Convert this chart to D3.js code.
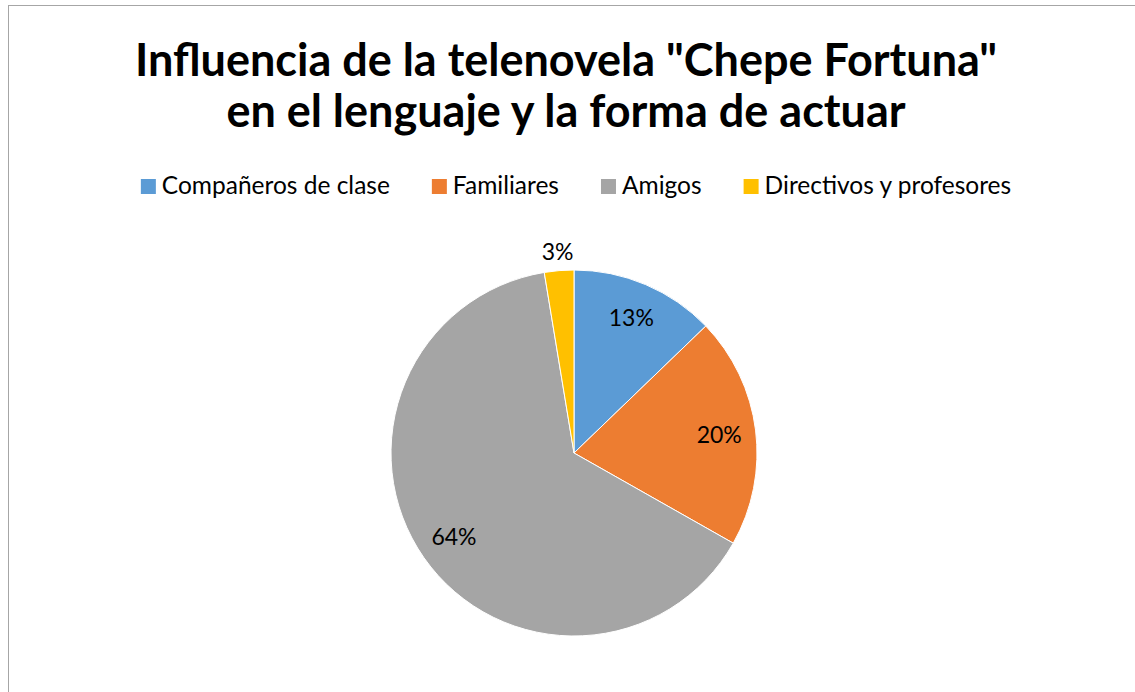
<!DOCTYPE html>
<html>
<head>
<meta charset="utf-8">
<script src="https://cdn.jsdelivr.net/npm/d3@7"></script>
<style>
  body { margin: 0; background: #fff; }
  svg { display: block; font-family: Lato, "Open Sans", sans-serif; }
</style>
</head>
<body>
<svg id="chart" width="1135" height="692"></svg>
<script>
// data
var categories = ["Compañeros de clase", "Familiares", "Amigos", "Directivos y profesores"];
var values = [12.8, 20.4, 64.2, 2.6];
var colors = ["#5b9bd5", "#ed7d31", "#a5a5a5", "#ffc000"];
var titleLines = ["Influencia de la telenovela \"Chepe Fortuna\"", "en el lenguaje y la forma de actuar"];

var svg = d3.select("#chart");
var total = d3.sum(values);

// outer border (right / bottom run off the picture)
svg.append("rect")
    .attr("x", 8.5)
    .attr("y", 5.5)
    .attr("width", 1140)
    .attr("height", 700)
    .attr("fill", "#fff")
    .attr("stroke", "#a6a6a6")
    .attr("stroke-width", 1);

// title
svg.append("text")
    .attr("text-anchor", "middle")
    .attr("font-weight", "bold")
    .attr("font-size", "45px")
    .attr("fill", "#000")
    .selectAll("tspan")
    .data(titleLines)
    .enter()
    .append("tspan")
    .attr("x", 566)
    .attr("y", function (d, i) { return 76 + i * 51; })
    .text(function (d) { return d; });

// legend
var legend = svg.append("g");
var items = legend.selectAll("g")
    .data(categories)
    .enter()
    .append("g");
items.append("rect")
    .attr("width", 15)
    .attr("height", 15)
    .attr("y", 179)
    .attr("fill", function (d, i) { return colors[i]; });
items.append("text")
    .attr("x", 21)
    .attr("y", 194)
    .attr("font-size", "24.5px")
    .attr("fill", "#000")
    .text(function (d) { return d; });

var widths = [];
items.select("text").each(function () { widths.push(this.getComputedTextLength()); });
var gap = 42;
var legendWidth = d3.sum(widths) + widths.length * 21 + (widths.length - 1) * gap;
var lx = 576 - legendWidth / 2;
items.attr("transform", function (d, i) {
    var x = lx;
    lx += 21 + widths[i] + gap;
    return "translate(" + x + ",0)";
});

// pie
var cx = 574, cy = 453, r = 183;
var pie = d3.pie().sort(null).value(function (d) { return d; });
var arcs = pie(values);
var arc = d3.arc().innerRadius(0).outerRadius(r);
var labelArc = d3.arc().innerRadius(r * 0.8).outerRadius(r * 0.8);
var outsideArc = d3.arc().innerRadius(r * 1.1).outerRadius(r * 1.1);

var g = svg.append("g").attr("transform", "translate(" + cx + "," + cy + ")");
g.selectAll("path")
    .data(arcs)
    .enter()
    .append("path")
    .attr("d", arc)
    .attr("fill", function (d, i) { return colors[i]; })
    .attr("stroke", "#fff")
    .attr("stroke-width", 1);

g.selectAll("text.lbl")
    .data(arcs)
    .enter()
    .append("text")
    .attr("class", "lbl")
    .attr("text-anchor", "middle")
    .attr("dy", "0.35em")
    .attr("font-size", "23px")
    .attr("fill", "#000")
    .attr("transform", function (d) {
        var p = (d.value / total < 0.05) ? outsideArc.centroid(d) : labelArc.centroid(d);
        return "translate(" + p + ")";
    })
    .text(function (d) { return Math.round(d.value / total * 100) + "%"; });
</script>
</body>
</html>
